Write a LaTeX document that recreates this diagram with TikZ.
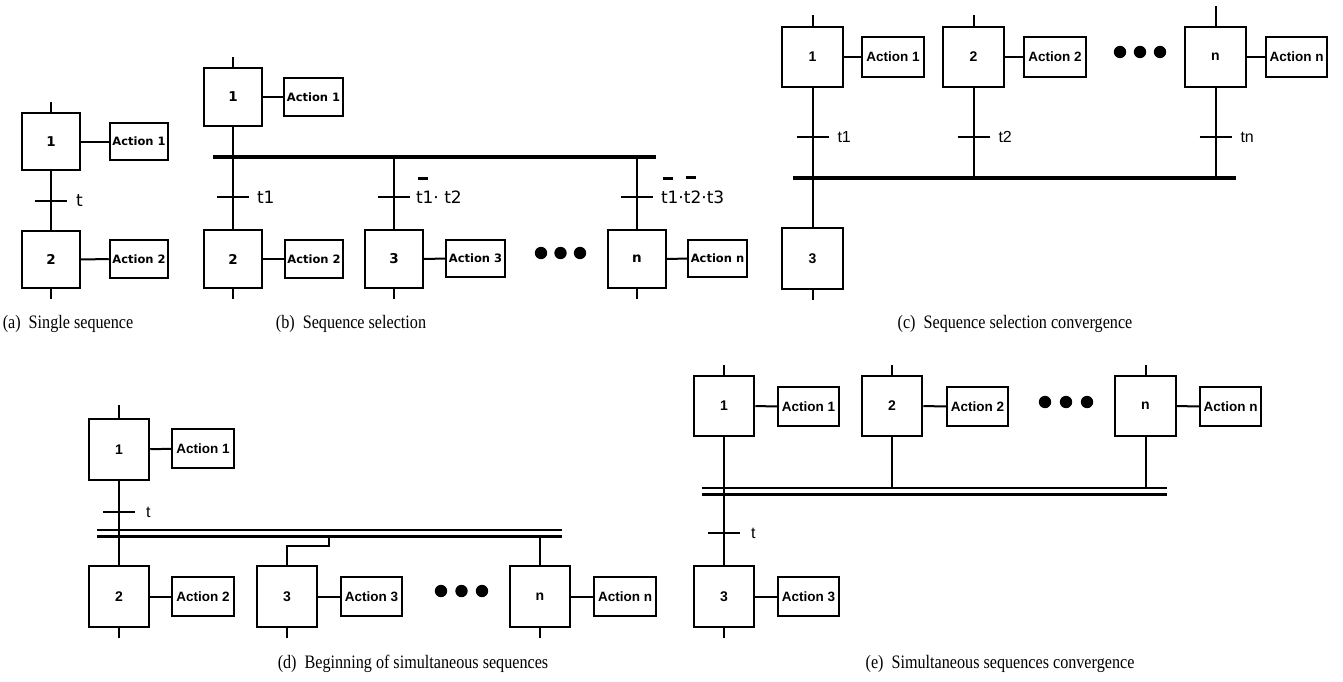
\documentclass[tikz,border=0pt]{standalone}
\usepackage{fontspec}
\setmainfont{Liberation Serif}
\newfontfamily\djv{DejaVu Sans}
\newfontfamily\arl{Liberation Sans}
\newfontfamily\capfont[FakeStretch=0.85]{Liberation Serif}
\usetikzlibrary{positioning, calc}

% overline for negated conditions
\newcommand{\ovr}[1]{\setbox0\hbox{#1}\rlap{\kern0.1\wd0\raisebox{1.9\ht0}[0pt][0pt]{\rule{0.6\wd0}{0.17em}}}\box0}

\begin{document}
\begin{tikzpicture}[x=1pt, y=-1pt, line width=2pt,
  stepA/.style={draw, minimum width=57.5pt, minimum height=57.5pt, inner sep=0pt, font=\djv\bfseries\fontsize{13.5}{15}\selectfont},
  actA/.style={draw, minimum width=58.5pt, minimum height=37.5pt, inner sep=0pt, font=\djv\bfseries\fontsize{11.5}{13}\selectfont},
  lblA/.style={inner sep=0pt, font=\djv\fontsize{17}{19}\selectfont},
  stepB/.style={draw, minimum width=60.5pt, minimum height=60.5pt, inner sep=0pt, font=\arl\bfseries\fontsize{14}{16}\selectfont},
  actB/.style={draw, minimum width=61.5pt, minimum height=39.5pt, inner sep=0pt, font=\arl\bfseries\fontsize{13.5}{15}\selectfont},
  lblB/.style={inner sep=0pt, font=\arl\fontsize{16}{18}\selectfont},
  tick/.style={inner sep=0pt, minimum width=30pt, minimum height=0pt},
  bar/.style={line width=3.8pt},
  dbar/.style={line width=2.8pt},
  capt/.style={font=\capfont\fontsize{19}{21}\selectfont}
]
\useasboundingbox (0,0) rectangle (1343,682);

% --- (a) Single sequence ---
\node[stepA] (a1) at (51,141.5) {1};
\node[actA] (aa1) at (139,141.5) {Action 1};
\node[stepA] (a2) at (51,259.5) {2};
\node[actA] (aa2) at (139,259) {Action 2};
\node[tick] (ta) at (51,201) {};
\node[lblA, right=8pt of ta] {t};
\draw (a1.north) -- ++(0,-10);
\draw (a1) -- (aa1);
\draw (a1.south) -- (a2.north);
\draw (ta.west) -- (ta.east);
\draw (a2) -- (aa2);
\draw (a2.south) -- ++(0,10);
\node[capt] (capa) at (68,324) {(a)~~Single sequence};

% --- (b) Sequence selection ---
\node[stepA] (b1) at (233,97) {1};
\node[actA] (ba1) at (313.5,97) {Action 1};
\node[stepA] (b2) at (233,259) {2};
\node[actA] (ba2) at (314,259) {Action 2};
\node[stepA] (b3) at (394,259) {3};
\node[actA] (ba3) at (475.5,258.5) {Action 3};
\node[stepA] (bn) at (637,259) {n};
\node[actA] (ban) at (717.5,258.5) {Action n};
\coordinate (bl) at (213,157);
\coordinate (br) at (656,157);
\draw[bar] (bl) -- (br);
\node[tick] (tb2) at (233,197) {};
\node[tick] (tb3) at (394,197) {};
\node[tick] (tbn) at (637,197) {};
\node[lblA, right=7pt of tb2] {t1};
\node[lblA, right=5pt of tb3] {\ovr{t1}· t2};
\node[lblA, right=7pt of tbn] {\ovr{t1}·\ovr{t2}·t3};
\draw (b1.north) -- ++(0,-10);
\draw (b1) -- (ba1);
\draw (b1.south) -- (b2.north);
\draw (bl -| b3.north) -- (b3.north);
\draw (bl -| bn.north) -- (bn.north);
\foreach \t in {tb2, tb3, tbn} \draw (\t.west) -- (\t.east);
\draw (b2) -- (ba2);
\draw (b3) -- (ba3);
\draw (bn) -- (ban);
\foreach \s in {b2, b3, bn} \draw (\s.south) -- ++(0,10);
\foreach \x in {541, 560.5, 580} \fill (\x,253) circle (6.2pt);
\node[capt] (capb) at (351,324) {(b)~~Sequence selection};

% --- (c) Sequence selection convergence ---
\node[stepB] (c1) at (812.5,57) {1};
\node[actB] (ca1) at (893,57) {Action 1};
\node[stepB] (c2) at (973.5,57) {2};
\node[actB] (ca2) at (1055,57) {Action 2};
\node[stepB] (cn) at (1215.5,57) {n};
\node[actB] (can) at (1296.5,57) {Action n};
\node[stepB] (c3) at (812.5,258.5) {3};
\coordinate (cl) at (793,178);
\coordinate (cr) at (1236,178);
\draw[bar] (cl) -- (cr);
\node[tick] (tc1) at (812.5,137) {};
\node[tick] (tc2) at (973.5,137) {};
\node[tick] (tcn) at (1215.5,137) {};
\node[lblB, right=8pt of tc1] {t1};
\node[lblB, right=8pt of tc2] {t2};
\node[lblB, right=8pt of tcn] {tn};
\draw (c1.north) -- ++(0,-11);
\draw (c2.north) -- ++(0,-11);
\draw (cn.north) -- ++(0,-20);
\draw (c1) -- (ca1);
\draw (c2) -- (ca2);
\draw (cn) -- (can);
\draw (c1.south) -- (c3.north);
\draw (c2.south) -- (c2.south |- cl);
\draw (cn.south) -- (cn.south |- cl);
\foreach \t in {tc1, tc2, tcn} \draw (\t.west) -- (\t.east);
\draw (c3.south) -- ++(0,10);
\foreach \x in {1120, 1140, 1160} \fill (\x,52) circle (6.2pt);
\node[capt] (capc) at (1015,324) {(c)~~Sequence selection convergence};

% --- (d) Beginning of simultaneous sequences ---
\node[stepB] (d1) at (119,449.5) {1};
\node[actB] (da1) at (203,448.5) {Action 1};
\node[stepB] (d2) at (119,596.5) {2};
\node[actB] (da2) at (203,596.5) {Action 2};
\node[stepB] (d3) at (287,596.5) {3};
\node[actB] (da3) at (371.5,596.5) {Action 3};
\node[stepB] (dn) at (540,596.5) {n};
\node[actB] (dan) at (625,596.5) {Action n};
\coordinate (dl) at (97,530);
\coordinate (dr) at (562,530);
\draw[dbar] (dl) -- (dr);
\draw[dbar] ($(dl)+(0,6.5)$) -- ($(dr)+(0,6.5)$);
\coordinate (dtap) at (329,536.5);
\node[tick] (td) at (119,512) {};
\node[lblB, right=10pt of td] {t};
\draw (d1.north) -- ++(0,-13);
\draw (d1) -- (da1);
\draw (d1.south) -- (d2.north);
\draw (td.west) -- (td.east);
\draw (d3.north) -- ++(0,-19) -| (dtap);
\draw (dn.north) -- (dn.north |- dtap);
\draw (d2) -- (da2);
\draw (d3) -- (da3);
\draw (dn) -- (dan);
\foreach \s in {d2, d3, dn} \draw (\s.south) -- ++(0,10);
\foreach \x in {441, 461.5, 482} \fill (\x,591) circle (6.2pt);
\node[capt] (capd) at (413,664) {(d)~~Beginning of simultaneous sequences};

% --- (e) Simultaneous sequences convergence ---
\node[stepB] (e1) at (724,406) {1};
\node[actB] (ea1) at (808.5,406.5) {Action 1};
\node[stepB] (e2) at (892,406) {2};
\node[actB] (ea2) at (977.5,406.5) {Action 2};
\node[stepB] (en) at (1145.5,406) {n};
\node[actB] (ean) at (1230.5,406.5) {Action n};
\node[stepB] (e3) at (724,596.5) {3};
\node[actB] (ea3) at (808.5,596.5) {Action 3};
\coordinate (el) at (702,488);
\coordinate (er) at (1167,488);
\draw[dbar] (el) -- (er);
\draw[dbar] ($(el)+(0,6.5)$) -- ($(er)+(0,6.5)$);
\node[tick] (te) at (724,533) {};
\node[lblB, right=10pt of te] {t};
\draw (e1.north) -- ++(0,-10);
\draw (e2.north) -- ++(0,-10);
\draw (en.north) -- ++(0,-10);
\draw (e1) -- (ea1);
\draw (e2) -- (ea2);
\draw (en) -- (ean);
\draw (e1.south) -- (e3.north);
\draw (e2.south) -- (e2.south |- el);
\draw (en.south) -- (en.south |- el);
\draw (te.west) -- (te.east);
\draw (e3) -- (ea3);
\draw (e3.south) -- ++(0,10);
\foreach \x in {1045, 1066, 1087} \fill (\x,402) circle (6.2pt);
\node[capt] (cape) at (1000,664) {(e)~~Simultaneous sequences convergence};

\end{tikzpicture}
\end{document}
